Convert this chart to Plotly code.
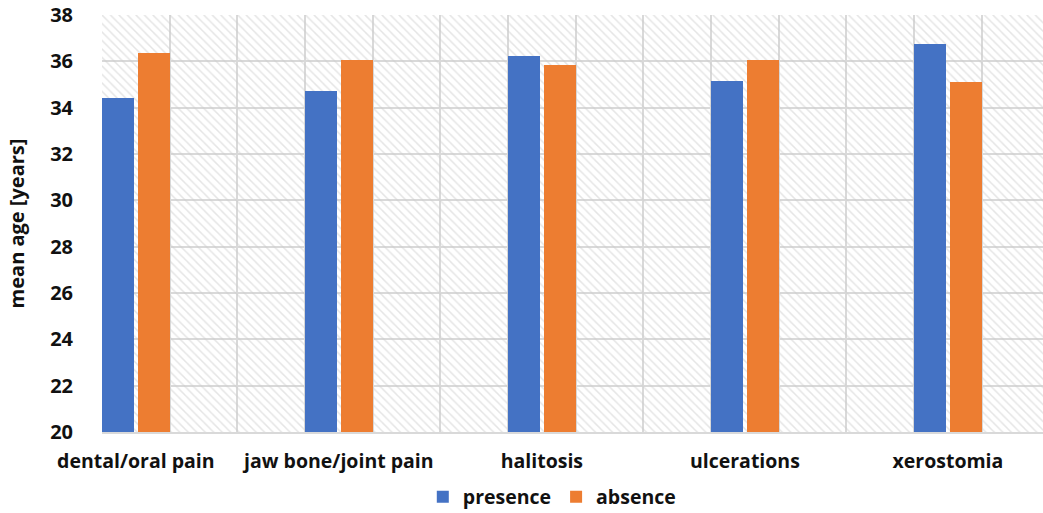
import plotly.graph_objects as go

# Data
categories = ['dental/oral pain', 'jaw bone/joint pain', 'halitosis', 'ulcerations', 'xerostomia']
presence = [34.4, 34.7, 36.25, 35.15, 36.75]
absence = [36.35, 36.05, 35.85, 36.05, 35.1]
y_ticks = [20, 22, 24, 26, 28, 30, 32, 34, 36, 38]

# x positions in "grid units": each category takes 3 grid cells
slot = [3 * i for i in range(len(categories))]
label_pos = [s + 0.5 for s in slot]
x_max = 13.905

blue = '#4472C4'
orange = '#ED7D31'
grid = '#d9d9d9'
font_family = 'Open Sans, sans-serif'

fig = go.Figure()

# hatched plot-area background
fig.add_trace(go.Bar(x=[x_max / 2], y=[y_ticks[-1] - y_ticks[0]], base=[y_ticks[0]], width=[x_max],
                     marker=dict(color='rgba(0,0,0,0)', line=dict(width=0),
                                 pattern=dict(shape='\\', fgcolor='#cccccc', size=6, solidity=0.25,
                                              fillmode='overlay')),
                     showlegend=False, hoverinfo='skip', xaxis='x', yaxis='y'))

fig.add_trace(go.Bar(x=slot, y=presence, name='presence', marker_color=blue, offset=0.0, width=0.475,
                     marker_line_width=0, xaxis='x2', yaxis='y'))
fig.add_trace(go.Bar(x=slot, y=absence, name='absence', marker_color=orange, offset=0.525, width=0.475,
                     marker_line_width=0, xaxis='x2', yaxis='y'))

fig.update_layout(
    width=1043, height=513,
    margin=dict(l=102, r=0, t=15, b=81),
    paper_bgcolor='white', plot_bgcolor='white',
    barmode='overlay',
    font=dict(family=font_family, color='#111111', weight='bold'),
    xaxis=dict(range=[0, x_max], tickmode='linear', tick0=0, dtick=1, showticklabels=False,
               showgrid=True, gridcolor=grid, gridwidth=2, zeroline=False, automargin=False,
               showline=True, linecolor=grid, linewidth=2, ticks=''),
    xaxis2=dict(range=[0, x_max], overlaying='x', anchor='y', side='bottom', automargin=False,
                tickmode='array', tickvals=label_pos, ticktext=categories,
                showgrid=False, zeroline=False, showline=False, ticks='',
                tickfont=dict(size=19.5, family=font_family, weight='bold'), ticklabelstandoff=15),
    yaxis=dict(range=[y_ticks[0], y_ticks[-1]], tickvals=y_ticks, showgrid=True, gridcolor=grid, gridwidth=2,
               zeroline=False, showline=False, ticks='', automargin=False, ticklabeloverflow='allow',
               tickfont=dict(size=20, family=font_family, weight='bold'), ticklabelstandoff=28,
               title=dict(text='mean age [years]', font=dict(size=20, family=font_family, weight='bold'),
                          standoff=20)),
    legend=dict(orientation='h', x=0.478, xanchor='center', yref='container', y=0.031, yanchor='middle',
                font=dict(size=19.5, family=font_family, weight='bold'), itemwidth=30,
                bgcolor='rgba(0,0,0,0)'),
    bargap=0,
)

# drop the default 8px body margin so the figure fills the window
fig.write_html('out.html', config={'displayModeBar': False},
               post_script="document.body.style.margin='0';document.body.style.overflow='hidden';")
